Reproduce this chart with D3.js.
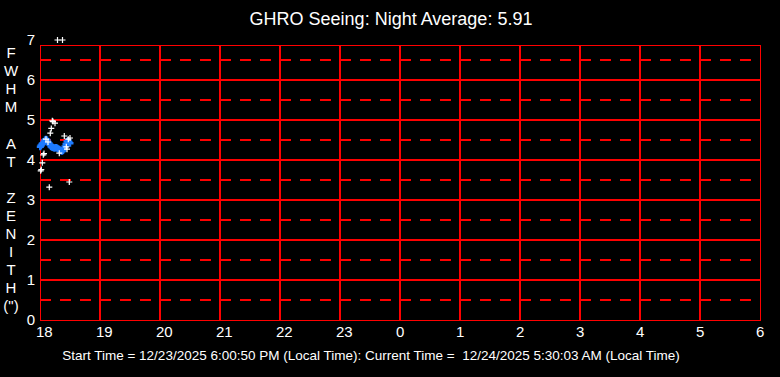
<!DOCTYPE html>
<html>
<head>
<meta charset="utf-8">
<script src="https://cdn.jsdelivr.net/npm/d3@7"></script>
<style>
  html, body { margin: 0; padding: 0; background: #000; }
  svg { display: block; }
  text { font-family: "Liberation Sans", Arial, sans-serif; fill: #fff; }
</style>
</head>
<body>
<svg id="chart"></svg>
<script>
var width = 780,
    height = 377;

var titleText = "GHRO Seeing: Night Average: 5.91";
var footerText = "Start Time = 12/23/2025 6:00:50 PM (Local Time): Current Time =  12/24/2025 5:30:03 AM (Local Time)";
var yLabelLetters = ["F", "W", "H", "M", "", "A", "T", "", "Z", "E", "N", "I", "T", "H", "(\")"];

// hours shown along the bottom (18:00 -> 06:00 next morning)
var hourTicks = [18, 19, 20, 21, 22, 23, 24, 25, 26, 27, 28, 29, 30];
var fwhmTicks = [0, 1, 2, 3, 4, 5, 6, 7];
var fwhmHalfTicks = [0.5, 1.5, 2.5, 3.5, 4.5, 5.5, 6.5];

// raw seeing samples (minutes after 18:00, FWHM arcsec)
var rawMinutes = [0.7, 1.3, 2.3, 3.3, 4.0, 6.0, 8.0, 9.3, 10.3, 11.3, 12.3, 13.0, 15.0, 17.5, 19.3, 22.5, 24.3, 26.3, 27.0, 28.3, 29.3, 30.0];
var rawFwhm    = [3.73, 3.76, 3.93, 4.13, 4.16, 4.52, 4.45, 3.32, 4.67, 4.79, 4.98, 4.96, 4.92, 7.0, 4.17, 7.0, 4.6, 4.33, 4.27, 4.52, 3.45, 4.55];

// running average (blue)
var avgMinutes = [0.3, 1.0, 2.0, 3.0, 4.0, 5.0, 6.0, 7.0, 8.0, 9.0, 10.0, 11.0, 12.0, 13.0, 14.0, 15.0, 16.0, 17.0, 18.0, 19.0, 20.0, 21.0, 22.0, 23.0, 24.0, 25.0, 26.0, 27.0, 28.0, 29.0, 30.0];
var avgFwhm    = [4.33, 4.36, 4.4, 4.42, 4.45, 4.5, 4.52, 4.5, 4.45, 4.42, 4.38, 4.34, 4.32, 4.31, 4.3, 4.3, 4.31, 4.3, 4.28, 4.27, 4.25, 4.23, 4.22, 4.24, 4.28, 4.34, 4.4, 4.46, 4.48, 4.45, 4.42];

var plotLeft = 40, plotRight = 760, plotBottom = 320;

var x = d3.scaleLinear().domain([18, 30]).range([plotLeft, plotRight]);
var y = d3.scaleLinear().domain([0, 7]).range([plotBottom, 40]);
var plotTop = Math.round(y(6.875));

var svg = d3.select('#chart')
            .attr('width', width)
            .attr('height', height);

svg.append('rect')
    .attr('width', width)
    .attr('height', height)
    .attr('fill', '#000');

// title
svg.append('text')
    .attr('x', 391)
    .attr('y', 25)
    .attr('text-anchor', 'middle')
    .style('font-size', '18px')
    .text(titleText);

var grid = svg.append('g')
              .attr('stroke', '#ff0000')
              .attr('shape-rendering', 'crispEdges');

// dashed half-unit lines
grid.selectAll('.half')
    .data(fwhmHalfTicks)
    .enter()
    .append('line')
      .classed('half', true)
      .attr('x1', plotLeft)
      .attr('x2', plotRight)
      .attr('y1', d => Math.round(y(d)))
      .attr('y2', d => Math.round(y(d)))
      .attr('stroke-width', 2)
      .attr('stroke-dasharray', '11,9');

// solid integer lines
grid.selectAll('.major')
    .data(fwhmTicks.filter(d => d > 0 && d < 7))
    .enter()
    .append('line')
      .classed('major', true)
      .attr('x1', plotLeft)
      .attr('x2', plotRight)
      .attr('y1', d => Math.round(y(d)))
      .attr('y2', d => Math.round(y(d)))
      .attr('stroke-width', 2);

// hour lines
grid.selectAll('.hour')
    .data(hourTicks.slice(1, -1))
    .enter()
    .append('line')
      .classed('hour', true)
      .attr('x1', d => Math.round(x(d)))
      .attr('x2', d => Math.round(x(d)))
      .attr('y1', plotTop)
      .attr('y2', plotBottom)
      .attr('stroke-width', 2);

// frame
grid.append('rect')
    .attr('x', plotLeft + 0.5)
    .attr('y', plotTop + 0.5)
    .attr('width', plotRight - plotLeft)
    .attr('height', plotBottom - plotTop)
    .attr('stroke-width', 1.5)
    .attr('fill', 'none');

// y tick labels
svg.selectAll('.ytick')
    .data(fwhmTicks)
    .enter()
    .append('text')
      .classed('ytick', true)
      .attr('x', 35)
      .attr('y', d => y(d) + 5)
      .attr('text-anchor', 'end')
      .style('font-size', '15px')
      .text(d => d);

// x tick labels (left edge sits just before the tick)
svg.selectAll('.xtick')
    .data(hourTicks)
    .enter()
    .append('text')
      .classed('xtick', true)
      .attr('x', d => x(d) - 4)
      .attr('y', 337)
      .attr('text-anchor', 'start')
      .style('font-size', '15px')
      .text(d => d % 24);

// vertical y label
svg.selectAll('.ylab')
    .data(yLabelLetters)
    .enter()
    .append('text')
      .classed('ylab', true)
      .attr('x', 11)
      .attr('y', (d, i) => 58 + i * 18.1)
      .attr('text-anchor', 'middle')
      .style('font-size', '15px')
      .text(d => d);

// footer
svg.append('text')
    .attr('x', 371)
    .attr('y', 360)
    .attr('text-anchor', 'middle')
    .attr('xml:space', 'preserve')
    .style('white-space', 'pre')
    .style('font-size', '13.5px')
    .text(footerText);

function plusPath(px, py, r) {
  return 'M' + (px - r) + ',' + py + 'H' + (px + r) + 'M' + px + ',' + (py - r) + 'V' + (py + r);
}

var avgData = avgMinutes.map((m, i) => ({t: 18 + m / 60, v: avgFwhm[i]}));
var rawData = rawMinutes.map((m, i) => ({t: 18 + m / 60, v: rawFwhm[i]}));

svg.append('g')
  .selectAll('path')
  .data(avgData)
  .enter()
  .append('path')
    .attr('d', d => plusPath(x(d.t), y(d.v), 3.5))
    .attr('stroke', '#1e7bff')
    .attr('stroke-width', 2.5)
    .attr('fill', 'none');

svg.append('g')
  .selectAll('path')
  .data(rawData)
  .enter()
  .append('path')
    .attr('d', d => plusPath(x(d.t), y(d.v), 3))
    .attr('stroke', '#fff')
    .attr('stroke-width', 1.2)
    .attr('fill', 'none');
</script>
</body>
</html>
